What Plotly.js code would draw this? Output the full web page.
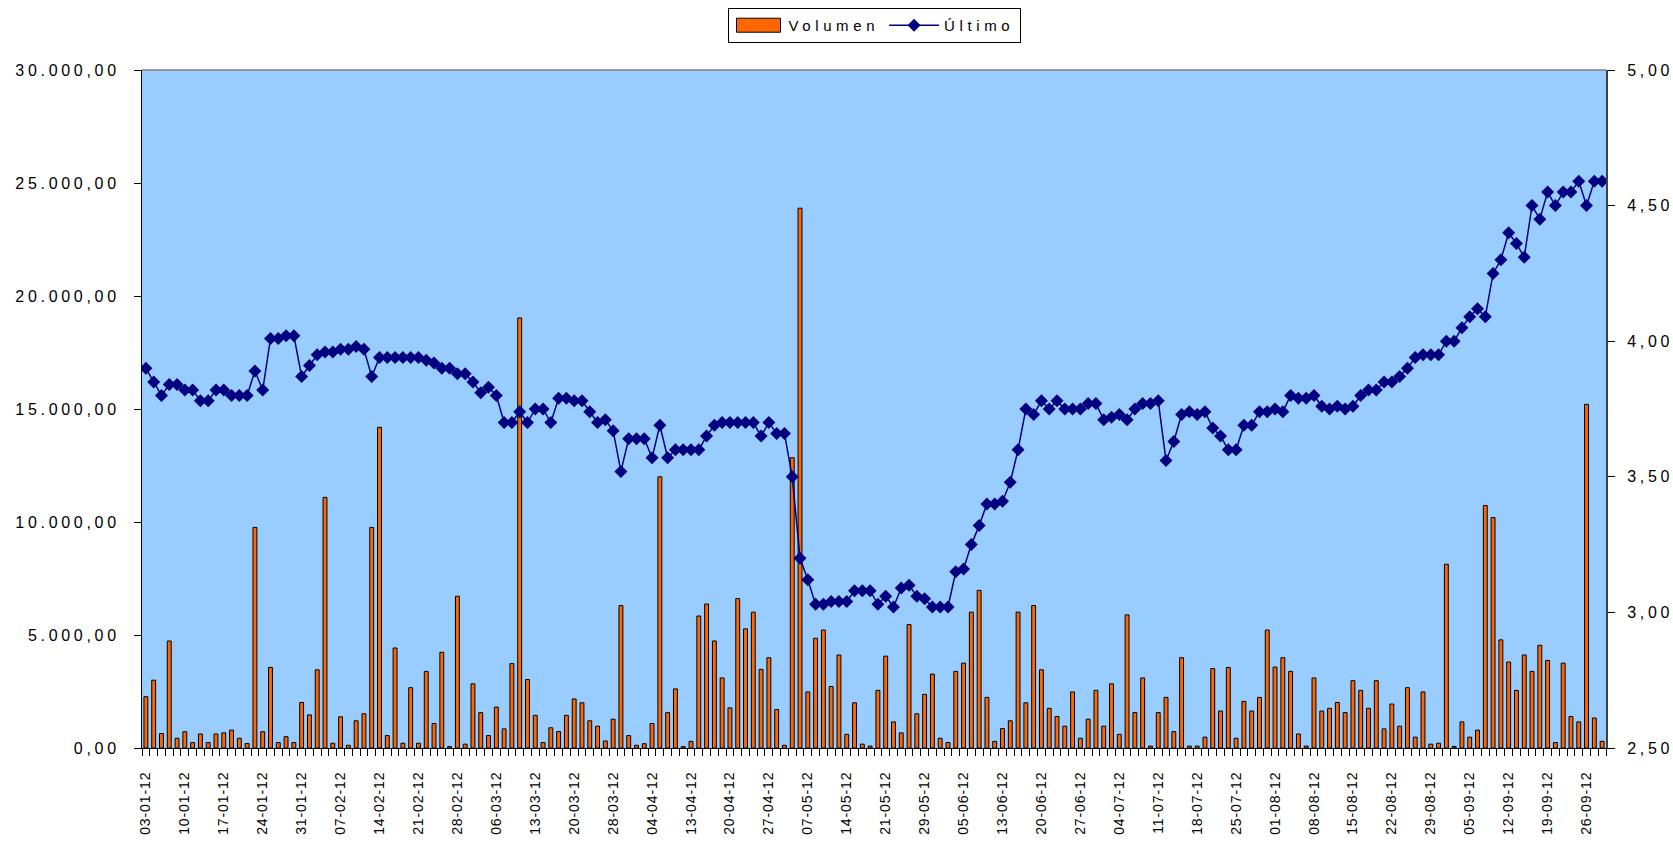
<!DOCTYPE html>
<html>
<head>
<meta charset="utf-8">
<script src="https://cdn.plot.ly/plotly-3.0.1.min.js"></script>
<style>
  html, body { margin: 0; padding: 0; background: #ffffff; }
  #chart { width: 1673px; height: 842px; }
  .xtick text { letter-spacing: 0.9px; }
  .ytick text, .y2tick text { letter-spacing: 3.7px; }
  .legendtext { letter-spacing: 4.6px; }
</style>
</head>
<body>
<div id="chart"></div>
<script>
// Volume (Volumen), one value per trading day
const volumen = [
  2270,3000,640,4735,430,720,240,620,240,620,670,790,430,200,9760,720,3565,240,500,240,
  2015,1465,3460,11090,210,1380,120,1205,1515,9760,14190,550,4425,210,2670,210,3390,1085,4235,60,
  6715,170,2840,1565,550,1810,845,3735,19030,3030,1445,240,895,725,1445,2170,2000,1205,965,310,
  1275,6300,550,120,190,1085,12000,1565,2615,60,295,5840,6370,4735,3100,1775,6610,5270,6010,3480,
  3995,1705,120,12845,23885,2480,4855,5220,2720,4115,605,2000,170,85,2550,4065,1155,670,5460,1515,
  2375,3270,430,240,3390,3755,6010,6975,2240,295,860,1205,6010,2000,6305,3460,1755,1395,965,2480,
  430,1275,2550,965,2840,605,5890,1565,3100,85,1565,2240,725,3995,85,85,480,3515,1635,3565,
  430,2065,1635,2240,5220,3580,3995,3390,620,85,3100,1635,1755,2015,1565,2980,2550,1755,2980,845,
  1945,965,2670,480,2480,170,210,8130,70,1155,480,790,10730,10195,4785,3805,2550,4115,3390,4545,
  3875,240,3755,1395,1155,15205,1325,295
];

// Last price (Último)
const ultimo = [
  3.90,3.85,3.80,3.84,3.84,3.82,3.82,3.78,3.78,3.82,3.82,3.80,3.80,3.80,3.89,3.82,4.01,4.01,4.02,4.02,
  3.87,3.91,3.95,3.96,3.96,3.97,3.97,3.98,3.97,3.87,3.94,3.94,3.94,3.94,3.94,3.94,3.93,3.92,3.90,3.90,
  3.88,3.88,3.85,3.81,3.83,3.80,3.70,3.70,3.74,3.70,3.75,3.75,3.70,3.79,3.79,3.78,3.78,3.74,3.70,3.71,
  3.67,3.52,3.64,3.64,3.64,3.57,3.69,3.57,3.60,3.60,3.60,3.60,3.65,3.69,3.70,3.70,3.70,3.70,3.70,3.65,
  3.70,3.66,3.66,3.50,3.20,3.12,3.03,3.03,3.04,3.04,3.04,3.08,3.08,3.08,3.03,3.06,3.02,3.09,3.10,3.06,
  3.05,3.02,3.02,3.02,3.15,3.16,3.25,3.32,3.40,3.40,3.41,3.48,3.60,3.75,3.73,3.78,3.75,3.78,3.75,3.75,
  3.75,3.77,3.77,3.71,3.72,3.73,3.71,3.75,3.77,3.77,3.78,3.56,3.63,3.73,3.74,3.73,3.74,3.68,3.65,3.60,
  3.60,3.69,3.69,3.74,3.74,3.75,3.74,3.80,3.79,3.79,3.80,3.76,3.75,3.76,3.75,3.76,3.80,3.82,3.82,3.85,
  3.85,3.87,3.90,3.94,3.95,3.95,3.95,4.00,4.00,4.05,4.09,4.12,4.09,4.25,4.30,4.40,4.36,4.31,4.50,4.45,
  4.55,4.50,4.55,4.55,4.59,4.50,4.59,4.59
];

// Tick labels (every 5th trading day)
const tickLabels = [
  "03-01-12","10-01-12","17-01-12","24-01-12","31-01-12","07-02-12","14-02-12","21-02-12",
  "28-02-12","06-03-12","13-03-12","20-03-12","28-03-12","04-04-12","13-04-12","20-04-12",
  "27-04-12","07-05-12","14-05-12","21-05-12","29-05-12","05-06-12","13-06-12","20-06-12",
  "27-06-12","04-07-12","11-07-12","18-07-12","25-07-12","01-08-12","08-08-12","15-08-12",
  "22-08-12","29-08-12","05-09-12","12-09-12","19-09-12","26-09-12"
];
const tickStep = 5;

const dayIndex = volumen.map((_, i) => i);
const tickIndex = tickLabels.map((_, k) => k * tickStep);

const traces = [
  {
    type: 'bar',
    name: 'Volumen',
    x: dayIndex,
    y: volumen,
    width: 0.5,
    marker: { color: '#FF6600', line: { color: '#000000', width: 1 } },
    hoverinfo: 'skip'
  },
  {
    type: 'scatter',
    mode: 'lines+markers',
    name: 'Último',
    x: dayIndex,
    y: ultimo,
    yaxis: 'y2',
    line: { color: '#000080', width: 1.5 },
    marker: { symbol: 'diamond', size: 10, color: '#000080' },
    hoverinfo: 'skip'
  }
];

const layout = {
  width: 1673,
  height: 842,
  margin: { l: 142, r: 67, t: 70, b: 94, autoexpand: false },
  paper_bgcolor: '#ffffff',
  plot_bgcolor: '#99CCFF',
  separators: ',.',
  font: { family: 'Liberation Sans, Arial, sans-serif', color: '#000000', size: 16 },
  showlegend: true,
  legend: {
    orientation: 'h',
    x: 0.5, xanchor: 'center',
    y: 1.0915, yanchor: 'top',
    bgcolor: '#ffffff',
    bordercolor: '#000000',
    borderwidth: 1,
    itemwidth: 50,
    font: { size: 15, color: '#000000' }
  },
  bargap: 0.5,
  xaxis: {
    range: [-0.5, volumen.length - 0.5],
    tickmode: 'array',
    tickvals: tickIndex,
    ticktext: tickLabels,
    tickangle: -90,
    ticks: '',
    ticklabelstandoff: 17,
    tickfont: { size: 14, color: '#000000' },
    showline: true, linecolor: '#000000', linewidth: 1,
    showgrid: false, zeroline: false,
    minor: { ticks: 'outside', ticklen: 7, tickwidth: 1, tickcolor: '#000000', tick0: -0.5, dtick: 1, showgrid: false }
  },
  yaxis: {
    range: [0, 30000],
    dtick: 5000,
    tickformat: ',.2f',
    ticks: 'outside', ticklen: 7, tickwidth: 1, tickcolor: '#000000',
    ticklabelstandoff: 11,
    tickfont: { size: 16, color: '#000000' },
    showline: true, linecolor: '#000000', linewidth: 1,
    showgrid: false, zeroline: false
  },
  yaxis2: {
    overlaying: 'y',
    side: 'right',
    range: [2.5, 5],
    dtick: 0.5,
    tickformat: '.2f',
    ticks: 'outside', ticklen: 7, tickwidth: 1, tickcolor: '#000000',
    ticklabelstandoff: 9,
    tickfont: { size: 16, color: '#000000' },
    showline: true, linecolor: '#404040', linewidth: 2,
    showgrid: false, zeroline: false
  },
  shapes: [
    { type: 'line', xref: 'paper', yref: 'paper', x0: 0, x1: 1, y0: 1, y1: 1,
      line: { color: '#808080', width: 1.5 }, layer: 'above' }
  ]
};

function widenBarSwatch() {
  // widen the bar legend swatch to the wide rectangle of the original
  document.querySelectorAll('#chart .legend .legendpoints path').forEach(function (p) {
    const d = (p.getAttribute('d') || '').replace(/\s+/g, '');
    if (d === 'M6,6H-6V-6H6Z') {
      p.setAttribute('d', 'M22,7H-22V-7H22Z');
    }
  });
}

Plotly.newPlot('chart', traces, layout, { displayModeBar: false, staticPlot: true }).then(function () {
  widenBarSwatch();
  setTimeout(widenBarSwatch, 50);
});
</script>
</body>
</html>
